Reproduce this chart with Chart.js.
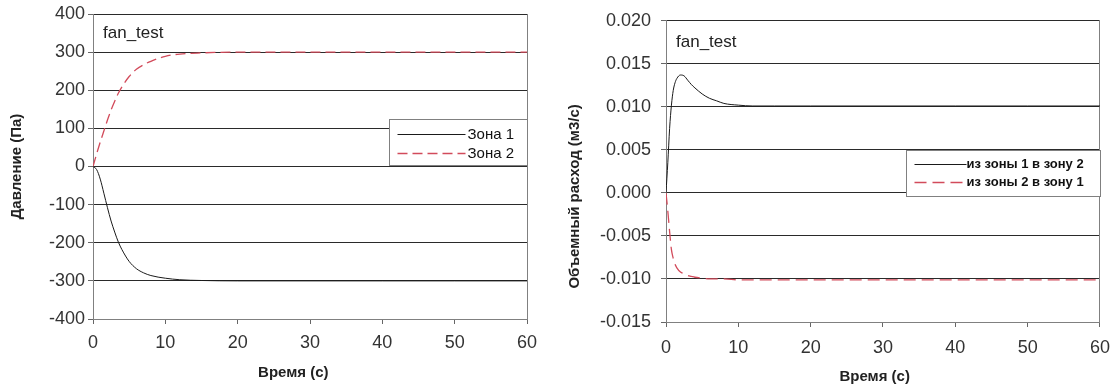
<!DOCTYPE html>
<html>
<head>
<meta charset="utf-8">
<script src="https://cdn.jsdelivr.net/npm/chart.js@4/dist/chart.umd.min.js"></script>
<style>
  body { margin: 0; background: #fff; }
  #wrap { position: relative; width: 1120px; height: 389px; }
  canvas { position: absolute; top: 0; }
</style>
</head>
<body>
<div id="wrap">
  <canvas id="pressure" width="560" height="389" style="left:0"></canvas>
  <canvas id="flow" width="560" height="389" style="left:560px"></canvas>
</div>
<script>
// left chart: pressure in the two zones
const pressureTime = [0, 0.5, 1, 1.5, 2, 2.5, 3, 3.5, 4, 5, 6, 7, 8, 10, 12, 15, 20, 30, 40, 50, 60];
const zone1 = [0, -8, -33, -70, -108, -143, -172, -198, -218, -249, -268, -279, -286, -293, -297, -299, -300, -300, -300, -300, -300];
const zone2 = [0, 33, 64, 93, 122, 148, 171, 192, 209, 236, 255, 267, 276, 289, 295, 298, 300, 300, 300, 300, 300];
const pressureTicks = [-400, -300, -200, -100, 0, 100, 200, 300, 400];

// right chart: volume flow between zones
const flowTime = [0, 0.25, 0.5, 0.75, 1, 1.25, 1.5, 2, 2.5, 3, 3.5, 4, 5, 6, 7, 8, 10, 12, 15, 20, 30, 40, 50, 60];
const flow12 = [0, 0.0035, 0.0075, 0.0102, 0.0119, 0.0128, 0.0133, 0.0137, 0.0136, 0.0131, 0.0126, 0.0122, 0.0115, 0.0110, 0.0107, 0.0104, 0.0102, 0.0101, 0.0101, 0.0101, 0.0101, 0.0101, 0.0101, 0.0101];
const flow21 = [0, -0.0021, -0.0045, -0.0066, -0.0076, -0.0083, -0.0087, -0.0092, -0.0094, -0.0096, -0.0097, -0.0098, -0.0099, -0.0100, -0.0100, -0.0100, -0.0101, -0.0101, -0.0101, -0.0101, -0.0101, -0.0101, -0.0101, -0.0101];
const flowTicks = [-0.015, -0.010, -0.005, 0, 0.005, 0.010, 0.015, 0.020];
const flowLabels = ['-0.015', '-0.010', '-0.005', '0.000', '0.005', '0.010', '0.015', '0.020'];

const timeTicks = [0, 10, 20, 30, 40, 50, 60];

Chart.defaults.font.family = '"Liberation Sans", Arial, sans-serif';
Chart.defaults.color = '#333';

const pts = (xs, ys) => xs.map((x, i) => ({ x: x, y: ys[i] }));

// legend box inside the plot + "fan_test" caption
const boxLegend = {
  id: 'boxLegend',
  afterDatasetsDraw(chart, args, o) {
    const { ctx, chartArea: a } = chart;
    const left = Math.round(a.right - o.width) + 0.5;
    const top = Math.round(a.top + o.top) + 0.5;
    ctx.save();
    ctx.fillStyle = '#fff';
    ctx.fillRect(left, top, o.width, o.height);
    ctx.strokeStyle = '#808080';
    ctx.lineWidth = 1;
    ctx.strokeRect(left, top, o.width, o.height);
    ctx.font = o.font;
    ctx.textBaseline = 'middle';
    ctx.fillStyle = '#111';
    chart.data.datasets.forEach((ds, i) => {
      const y = Math.round(top + o.row0 + i * o.rowGap) + 0.5;
      ctx.strokeStyle = ds.borderColor;
      ctx.lineWidth = ds.borderWidth;
      ctx.setLineDash(ds.borderDash || []);
      ctx.beginPath();
      ctx.moveTo(left + o.lineStart, y);
      ctx.lineTo(left + o.lineStart + o.lineLen, y);
      ctx.stroke();
      ctx.setLineDash([]);
      ctx.fillText(ds.label, left + o.lineStart + o.lineLen + o.gap, y);
    });
    ctx.font = '17px "Liberation Sans", Arial, sans-serif';
    ctx.fillStyle = '#222';
    ctx.fillText(o.caption, a.left + 10, a.top + o.captionY);
    ctx.restore();
  }
};

function makeChart(id, cfg) {
  return new Chart(document.getElementById(id), {
    type: 'line',
    data: {
      datasets: [
        {
          label: cfg.labels[0],
          data: pts(cfg.time, cfg.a),
          borderColor: '#1a1a1a',
          borderWidth: 1,
          pointRadius: 0,
          cubicInterpolationMode: 'monotone'
        },
        {
          label: cfg.labels[1],
          data: pts(cfg.time, cfg.b),
          borderColor: '#d24b5b',
          borderWidth: 1.3,
          borderDash: cfg.dash,
          pointRadius: 0,
          cubicInterpolationMode: 'monotone'
        }
      ]
    },
    options: {
      responsive: false,
      animation: false,
      devicePixelRatio: 1,
      layout: { padding: { top: 14, right: cfg.padRight, left: 0, bottom: 0 } },
      plugins: {
        legend: { display: false },
        tooltip: { enabled: false },
        boxLegend: cfg.legend
      },
      scales: {
        x: {
          type: 'linear',
          min: 0,
          max: 60,
          afterBuildTicks: s => { s.ticks = timeTicks.map(v => ({ value: v })); },
          ticks: { font: { size: 18 }, padding: cfg.xPad, maxRotation: 0 },
          grid: { drawOnChartArea: false, tickLength: 5, tickColor: '#666' },
          border: { color: '#808080' },
          title: {
            display: true,
            text: cfg.xTitle,
            color: '#222',
            font: { size: 15, weight: 'bold' },
            padding: { top: 0, bottom: cfg.xTitlePad }
          },
          afterFit: s => { s.height = cfg.xHeight; }
        },
        y: {
          min: cfg.yTicks[0],
          max: cfg.yTicks[cfg.yTicks.length - 1],
          afterBuildTicks: s => { s.ticks = cfg.yTicks.map(v => ({ value: v })); },
          ticks: {
            font: { size: 18 },
            padding: cfg.yPad,
            callback: (v, i) => cfg.yLabels[i]
          },
          grid: { color: '#2a2a2a', tickLength: 5, tickColor: '#666' },
          border: { color: '#808080' },
          title: {
            display: true,
            text: cfg.yTitle,
            color: '#222',
            font: { size: 15, weight: 'bold' },
            padding: { top: cfg.yTitlePad, bottom: 0 }
          },
          afterFit: s => { s.width = cfg.yWidth; }
        },
        edge: {
          position: 'right',
          ticks: { display: false },
          grid: { display: false },
          border: { color: '#808080' },
          afterFit: s => { s.width = 0; }
        }
      }
    },
    plugins: [boxLegend]
  });
}

makeChart('pressure', {
  time: pressureTime,
  a: zone1,
  b: zone2,
  labels: ['Зона 1', 'Зона 2'],
  dash: [10, 5],
  yTicks: pressureTicks,
  yLabels: pressureTicks.map(String),
  xTitle: 'Время (с)        ',
  yTitle: 'Давление (Па)',
  padRight: 33,
  xHeight: 70,
  yWidth: 93,
  xPad: 8,
  yPad: 3,
  xTitlePad: 7,
  yTitlePad: 8,
  legend: {
    width: 138, top: 105, height: 46,
    row0: 14, rowGap: 19,
    lineStart: 8, lineLen: 68, gap: 2,
    font: '15px "Liberation Sans", Arial, sans-serif',
    caption: 'fan_test', captionY: 19
  }
});

makeChart('flow', {
  time: flowTime,
  a: flow12,
  b: flow21,
  labels: ['из зоны 1 в зону 2', 'из зоны 2 в зону 1'],
  dash: [12, 6],
  yTicks: flowTicks,
  yLabels: flowLabels,
  xTitle: 'Время (с)    ',
  yTitle: 'Объемный расход (м3/с)            ',
  padRight: 13,
  xHeight: 67,
  yWidth: 106,
  xPad: 10,
  yPad: 10,
  xTitlePad: 3,
  yTitlePad: 6,
  legend: {
    width: 194, top: 129, height: 46,
    row0: 13, rowGap: 18,
    lineStart: 8, lineLen: 52, gap: 0,
    font: 'bold 13px "Liberation Sans", Arial, sans-serif',
    caption: 'fan_test', captionY: 22
  }
});
</script>
</body>
</html>
